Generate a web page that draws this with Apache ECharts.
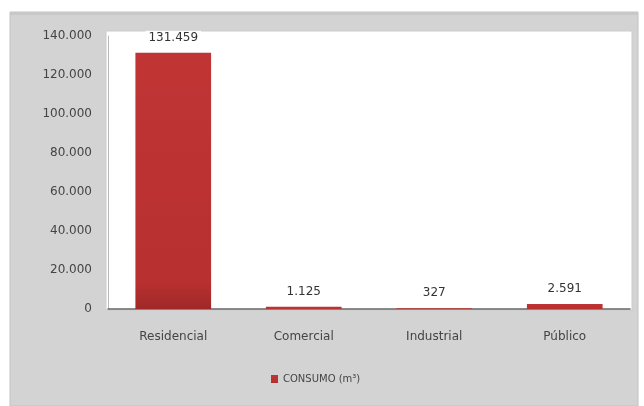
<!DOCTYPE html>
<html><head><meta charset="utf-8">
<script src="https://cdn.jsdelivr.net/npm/echarts@6/dist/echarts.min.js"></script>
<style>html,body{margin:0;padding:0;background:#fff}#c{width:644px;height:406px}</style>
</head><body><div id="c"></div>
<script>
var categories = ['Residencial', 'Comercial', 'Industrial', 'Público'];
var consumo = [131459, 1125, 327, 2591];
var seriesName = 'CONSUMO (m³)';
var yMin = 0, yMax = 140000, yStep = 20000;

function fmt(v){ return String(v).replace(/\B(?=(\d{3})+(?!\d))/g, '.'); }

var chart = echarts.init(document.getElementById('c'), null, {renderer:'canvas'});
chart.setOption({
  backgroundColor: '#ffffff',
  animation: false,
  textStyle: { fontFamily: 'DejaVu Sans' },
  graphic: [
    { type:'rect', z:-10, shape:{x:10,y:12,width:628,height:394}, style:{fill:'#d3d3d3', stroke:'#c2c2c2', lineWidth:1} },
    { type:'rect', z:-9, shape:{x:10,y:12,width:628,height:3}, style:{fill:'#c8c8c8'} },
    { type:'rect', z:-8, shape:{x:106,y:31,width:526,height:279}, style:{fill:'#ffffff', stroke:'#cccccc', lineWidth:1} }
  ],
  grid: { left: 108, right: 14, top: 36, bottom: 97 },
  legend: {
    bottom: 17, left: 266,
    itemWidth: 7, itemHeight: 8, itemGap: 3,
    icon: 'rect',
    textStyle: { fontSize: 10, color: '#444', fontFamily: 'DejaVu Sans' },
    data: [seriesName]
  },
  xAxis: {
    type: 'category', data: categories,
    axisLine: { lineStyle: { color: '#666', width: 1.5 } },
    axisTick: { show: false },
    axisLabel: { color: '#444', fontSize: 12, margin: 22 }
  },
  yAxis: {
    type: 'value', min: yMin, max: yMax, interval: yStep,
    axisLine: { show: true, lineStyle: { color: '#bbb' } },
    axisTick: { show: false },
    splitLine: { show: false },
    axisLabel: { color: '#444', fontSize: 12, margin: 16, formatter: fmt }
  },
  series: [{
    name: seriesName, type: 'bar', data: consumo, barWidth: '58%',
    itemStyle: { color: new echarts.graphic.LinearGradient(0,0,0,1,[
      {offset:0,color:'#c03434'},{offset:0.9,color:'#b83030'},{offset:1,color:'#a02828'}]) },
    label: {
      show: true, position: 'top', distance: 8,
      color: '#333', fontSize: 12, formatter: function(p){ return fmt(p.value); },
      backgroundColor: 'rgba(255,255,255,0.9)', padding: [1,3]
    }
  }]
});
</script></body></html>
